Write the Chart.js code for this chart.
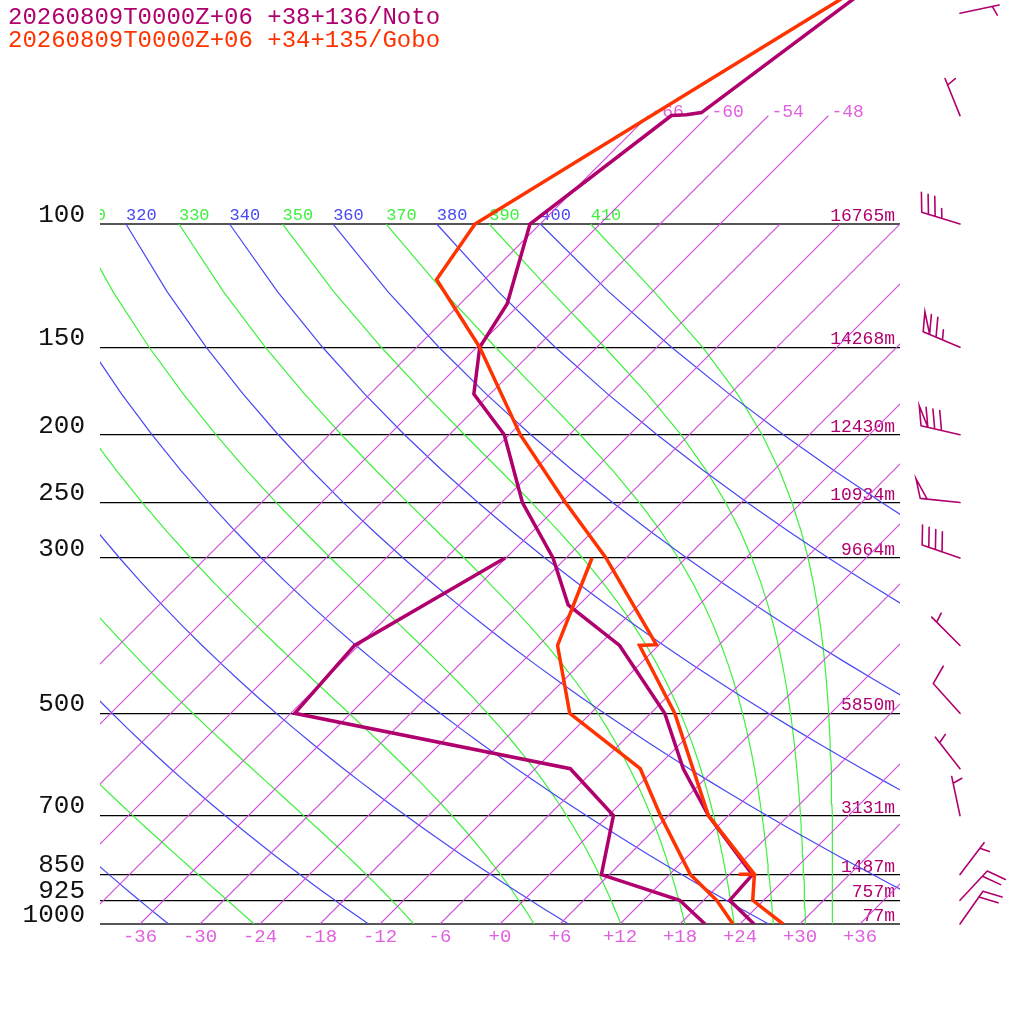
<!DOCTYPE html>
<html>
<head>
<meta charset="utf-8">
<title>Skew-T Noto / Gobo</title>
<script src="https://cdn.jsdelivr.net/npm/chart.js@4.4.1/dist/chart.umd.min.js"></script>
<style>
  html, body { margin: 0; padding: 0; background: #fff; }
  canvas { display: block; }
</style>
</head>
<body>
<canvas id="skewt" width="1024" height="1024" style="width:1024px;height:1024px"></canvas>
<script>
// ============================================
// Skew-T log-p sounding, two stations
// ============================================
const NOTO = '#b0006e';
const GOBO = '#ff3300';
const ISO = '#d048dc';
const DRY = '#4848f4';
const MOIST = '#3ef03e';
const FONT = 'Liberation Mono';

// x shift (deg C) per unit of ln(1000/p): makes isotherms run at 45 degrees
const SKEW = 30.4;

// --- sounding: Noto (+38+136) ---
const notoTempP = [1000, 925, 850, 700, 600, 500, 400, 350, 300, 250, 200, 175, 150, 130, 100, 70, 69.8, 69.3, 47];
const notoTemp = [25.4, 20.6, 20.3, 10.0, 2.8, -4.6, -15.9, -25.1, -31.3, -39.9, -48.5, -55.6, -59.7, -61.3, -67.0, -63.7, -62.3, -61.0, -57.0];
const notoDewP = [1000, 925, 850, 700, 600, 500, 400, 300];
const notoDew = [20.5, 15.6, 5.2, 0.5, -8.5, -41.6, -42.4, -36.1];

// --- sounding: Gobo (+34+135) ---
const goboTempP = [1000, 925, 850, 849, 848, 700, 500, 400, 399, 300, 250, 200, 150, 120, 100, 47];
const goboTemp = [28.3, 22.9, 20.5, 18.9, 20.4, 10.0, -3.6, -13.9, -12.3, -26.0, -35.6, -46.9, -59.7, -70.8, -72.5, -58.1];
const goboDewP = [1000, 925, 850, 700, 600, 500, 400, 300];
const goboDew = [23.3, 19.3, 14.1, 5.2, -1.5, -14.1, -22.1, -27.4];

// --- winds (Noto) ---
const windP = [50, 70, 100, 150, 200, 250, 300, 400, 500, 600, 700, 850, 925, 1000];
const windDir = [78, 338, 287, 293, 283, 276, 289, 315, 318, 322, 348, 37, 43, 35];
const windKt = [5, 5, 35, 75, 80, 50, 40, 5, 10, 5, 5, 5, 20, 20];

// --- standard level heights ---
const levelP = [100, 150, 200, 250, 300, 500, 700, 850, 925, 1000];
const levelHgt = ['16765m', '14268m', '12430m', '10934m', '9664m', '5850m', '3131m', '1487m', '757m', '77m'];

// --- diagram furniture ---
const tempTicks = [-36, -30, -24, -18, -12, -6, 0, 6, 12, 18, 24, 30, 36];
const isotherms = [-66, -60, -54, -48, -42, -36, -30, -24, -18, -12, -6, 0, 6, 12, 18, 24, 30, 36];
const isoLabelled = [-66, -60, -54, -48];
const dryTheta = [240, 260, 280, 300, 320, 340, 360, 380, 400];
const moistTheta = [250, 270, 290, 310, 330, 350, 370, 390, 410];

const adiabatP = [];
for (let p = 1000; p >= 100; p -= 25) adiabatP.push(p);

function skewX(t, p) { return t + SKEW * Math.log(1000 / p); }
function profile(ps, ts) { return ps.map((p, i) => ({ x: skewX(ts[i], p), y: p })); }

function dryT(theta, p) { return theta * Math.pow(p / 1000, 0.2857) - 273.15; }
function satVap(tc) { return 6.112 * Math.exp(17.67 * tc / (tc + 243.5)); }
function thetaE(tc, p) {
  const tk = tc + 273.15;
  const es = satVap(tc);
  const r = 0.622 * es / (p - es);
  return tk * Math.pow(1000 / p, 0.2854 * (1 - 0.28 * r)) *
    Math.exp((3.376 / tk - 0.00254) * r * 1000 * (1 + 0.81 * r));
}
function moistT(the, p) {
  let lo = -140, hi = 50;
  for (let i = 0; i < 60; i++) {
    const mid = (lo + hi) / 2;
    if (satVap(mid) > 0.5 * p || thetaE(mid, p) > the) hi = mid; else lo = mid;
  }
  return (lo + hi) / 2;
}

function bgLine(data, color, w) {
  return { data, borderColor: color, borderWidth: w, showLine: true, pointRadius: 0, order: 10, clip: 0 };
}

const datasets = [];
datasets.push({ data: profile(goboTempP, goboTemp), borderColor: GOBO, borderWidth: 3.5, showLine: true, pointRadius: 0, order: 0, clip: 0 });
datasets.push({ data: profile(goboDewP, goboDew), borderColor: GOBO, borderWidth: 3.5, showLine: true, pointRadius: 0, order: 0, clip: 0 });
datasets.push({ data: profile(notoTempP, notoTemp), borderColor: NOTO, borderWidth: 3.5, showLine: true, pointRadius: 0, order: 1, clip: 0 });
datasets.push({ data: profile(notoDewP, notoDew), borderColor: NOTO, borderWidth: 3.5, showLine: true, pointRadius: 0, order: 1, clip: 0 });

isotherms.forEach((t) => {
  const top = isoLabelled.includes(t) ? 70 : 100;
  datasets.push(bgLine([{ x: skewX(t, 1000), y: 1000 }, { x: skewX(t, top), y: top }], ISO, 1.1));
});
dryTheta.forEach((th) => {
  datasets.push(bgLine(adiabatP.map((p) => ({ x: skewX(dryT(th, p), p), y: p })), DRY, 1.2));
});
moistTheta.forEach((th) => {
  datasets.push(bgLine(adiabatP.map((p) => ({ x: skewX(moistT(th, p), p), y: p })), MOIST, 1.2));
});

function drawBarb(ctx, x0, y0, dir, kt) {
  const r = dir * Math.PI / 180;
  const ux = Math.sin(r), uy = -Math.cos(r);
  const th = 72 * Math.PI / 180;
  const vx = ux * Math.cos(th) - uy * Math.sin(th);
  const vy = ux * Math.sin(th) + uy * Math.cos(th);
  const L = 40, gap = 7, full = 20;
  const ex = x0 + ux * L, ey = y0 + uy * L;
  const at = (d) => [ex - ux * d, ey - uy * d];
  ctx.beginPath();
  ctx.moveTo(x0, y0);
  ctx.lineTo(ex, ey);
  let s = Math.round(kt / 5) * 5;
  let pos = s < 10 ? gap : 0;
  while (s >= 50) {
    const [a, b] = at(pos), [c, d] = at(pos + gap);
    ctx.moveTo(a, b); ctx.lineTo(a + vx * full, b + vy * full); ctx.lineTo(c, d);
    pos += gap; s -= 50;
  }
  while (s >= 10) {
    const [a, b] = at(pos);
    ctx.moveTo(a, b); ctx.lineTo(a + vx * full, b + vy * full);
    pos += gap; s -= 10;
  }
  if (s >= 5) {
    const [a, b] = at(pos);
    ctx.moveTo(a, b); ctx.lineTo(a + vx * full / 2, b + vy * full / 2);
  }
  ctx.stroke();
}

const furniture = {
  id: 'furniture',
  beforeDatasetsDraw(chart) {
    const { ctx, chartArea: a, scales: { x, y } } = chart;
    ctx.save();
    ctx.beginPath();
    ctx.rect(a.left, a.top, a.right - a.left, a.bottom - a.top);
    ctx.clip();
    ctx.textAlign = 'left';
    ctx.textBaseline = 'alphabetic';
    ctx.font = '17px "' + FONT + '"';
    const y100 = y.getPixelForValue(100);
    dryTheta.forEach((th) => {
      ctx.fillStyle = DRY;
      ctx.fillText(String(th), x.getPixelForValue(skewX(dryT(th, 100), 100)), y100 - 4);
    });
    moistTheta.forEach((th) => {
      ctx.fillStyle = MOIST;
      ctx.fillText(String(th), x.getPixelForValue(skewX(moistT(th, 100), 100)), y100 - 4);
    });
    ctx.font = '18px "' + FONT + '"';
    ctx.fillStyle = '#e060e0';
    const y70 = y.getPixelForValue(70);
    isoLabelled.forEach((t) => {
      ctx.fillText(String(t), x.getPixelForValue(skewX(t, 70)) + 3, y70 + 1);
    });
    ctx.restore();

    ctx.save();
    ctx.font = '18px "' + FONT + '"';
    ctx.fillStyle = NOTO;
    ctx.textAlign = 'right';
    levelP.forEach((p, i) => {
      ctx.fillText(levelHgt[i], a.right - 5, y.getPixelForValue(p) - 3);
    });
    ctx.restore();
  },
  afterDraw(chart) {
    const { ctx, chartArea: a, scales: { y } } = chart;
    ctx.save();
    ctx.strokeStyle = NOTO;
    ctx.lineWidth = 1.6;
    ctx.lineCap = 'round';
    windP.forEach((p, i) => drawBarb(ctx, a.right + 60, y.getPixelForValue(p), windDir[i], windKt[i]));
    ctx.font = '24px "' + FONT + '"';
    ctx.textAlign = 'left';
    ctx.fillStyle = NOTO;
    ctx.fillText('20260809T0000Z+06 +38+136/Noto', 8, 24);
    ctx.fillStyle = GOBO;
    ctx.fillText('20260809T0000Z+06 +34+135/Gobo', 8, 47);
    ctx.restore();
  }
};

function noPadding(s) {
  s.paddingTop = 0;
  s.paddingBottom = 0;
  s.paddingLeft = 0;
  s.paddingRight = 0;
}

new Chart(document.getElementById('skewt'), {
  type: 'scatter',
  data: { datasets },
  plugins: [furniture],
  options: {
    responsive: false,
    animation: false,
    layout: { padding: { left: 0, right: 124, top: 0, bottom: 0 } },
    plugins: { legend: { display: false }, tooltip: { enabled: false } },
    elements: { point: { radius: 0 }, line: { tension: 0 } },
    scales: {
      x: {
        type: 'linear',
        min: -40,
        max: 40,
        afterBuildTicks: (s) => { s.ticks = tempTicks.map((v) => ({ value: v })); },
        afterFit: (s) => { s.height = 100; noPadding(s); },
        grid: { display: false, drawTicks: false },
        border: { display: false },
        ticks: {
          color: '#e060e0',
          font: { family: FONT, size: 19 },
          padding: 2,
          maxRotation: 0,
          autoSkip: false,
          callback: (v) => (v >= 0 ? '+' : '') + v,
        },
      },
      y: {
        type: 'logarithmic',
        reverse: true,
        min: 47.86,
        max: 1000,
        afterBuildTicks: (s) => { s.ticks = levelP.map((v) => ({ value: v })); },
        afterFit: (s) => { s.width = 100; noPadding(s); },
        grid: {
          drawTicks: false,
          color: (c) => (c.tick && (c.tick.value === 100 || c.tick.value === 1000) ? '#555' : '#000'),
          lineWidth: (c) => (c.tick && (c.tick.value === 100 || c.tick.value === 1000) ? 2 : 1.2),
        },
        border: { display: false },
        ticks: {
          color: '#111',
          font: { family: FONT, size: 26 },
          padding: 15,
          labelOffset: -9,
          autoSkip: false,
          callback: (v) => String(v),
        },
      },
    },
  },
});
</script>
</body>
</html>
